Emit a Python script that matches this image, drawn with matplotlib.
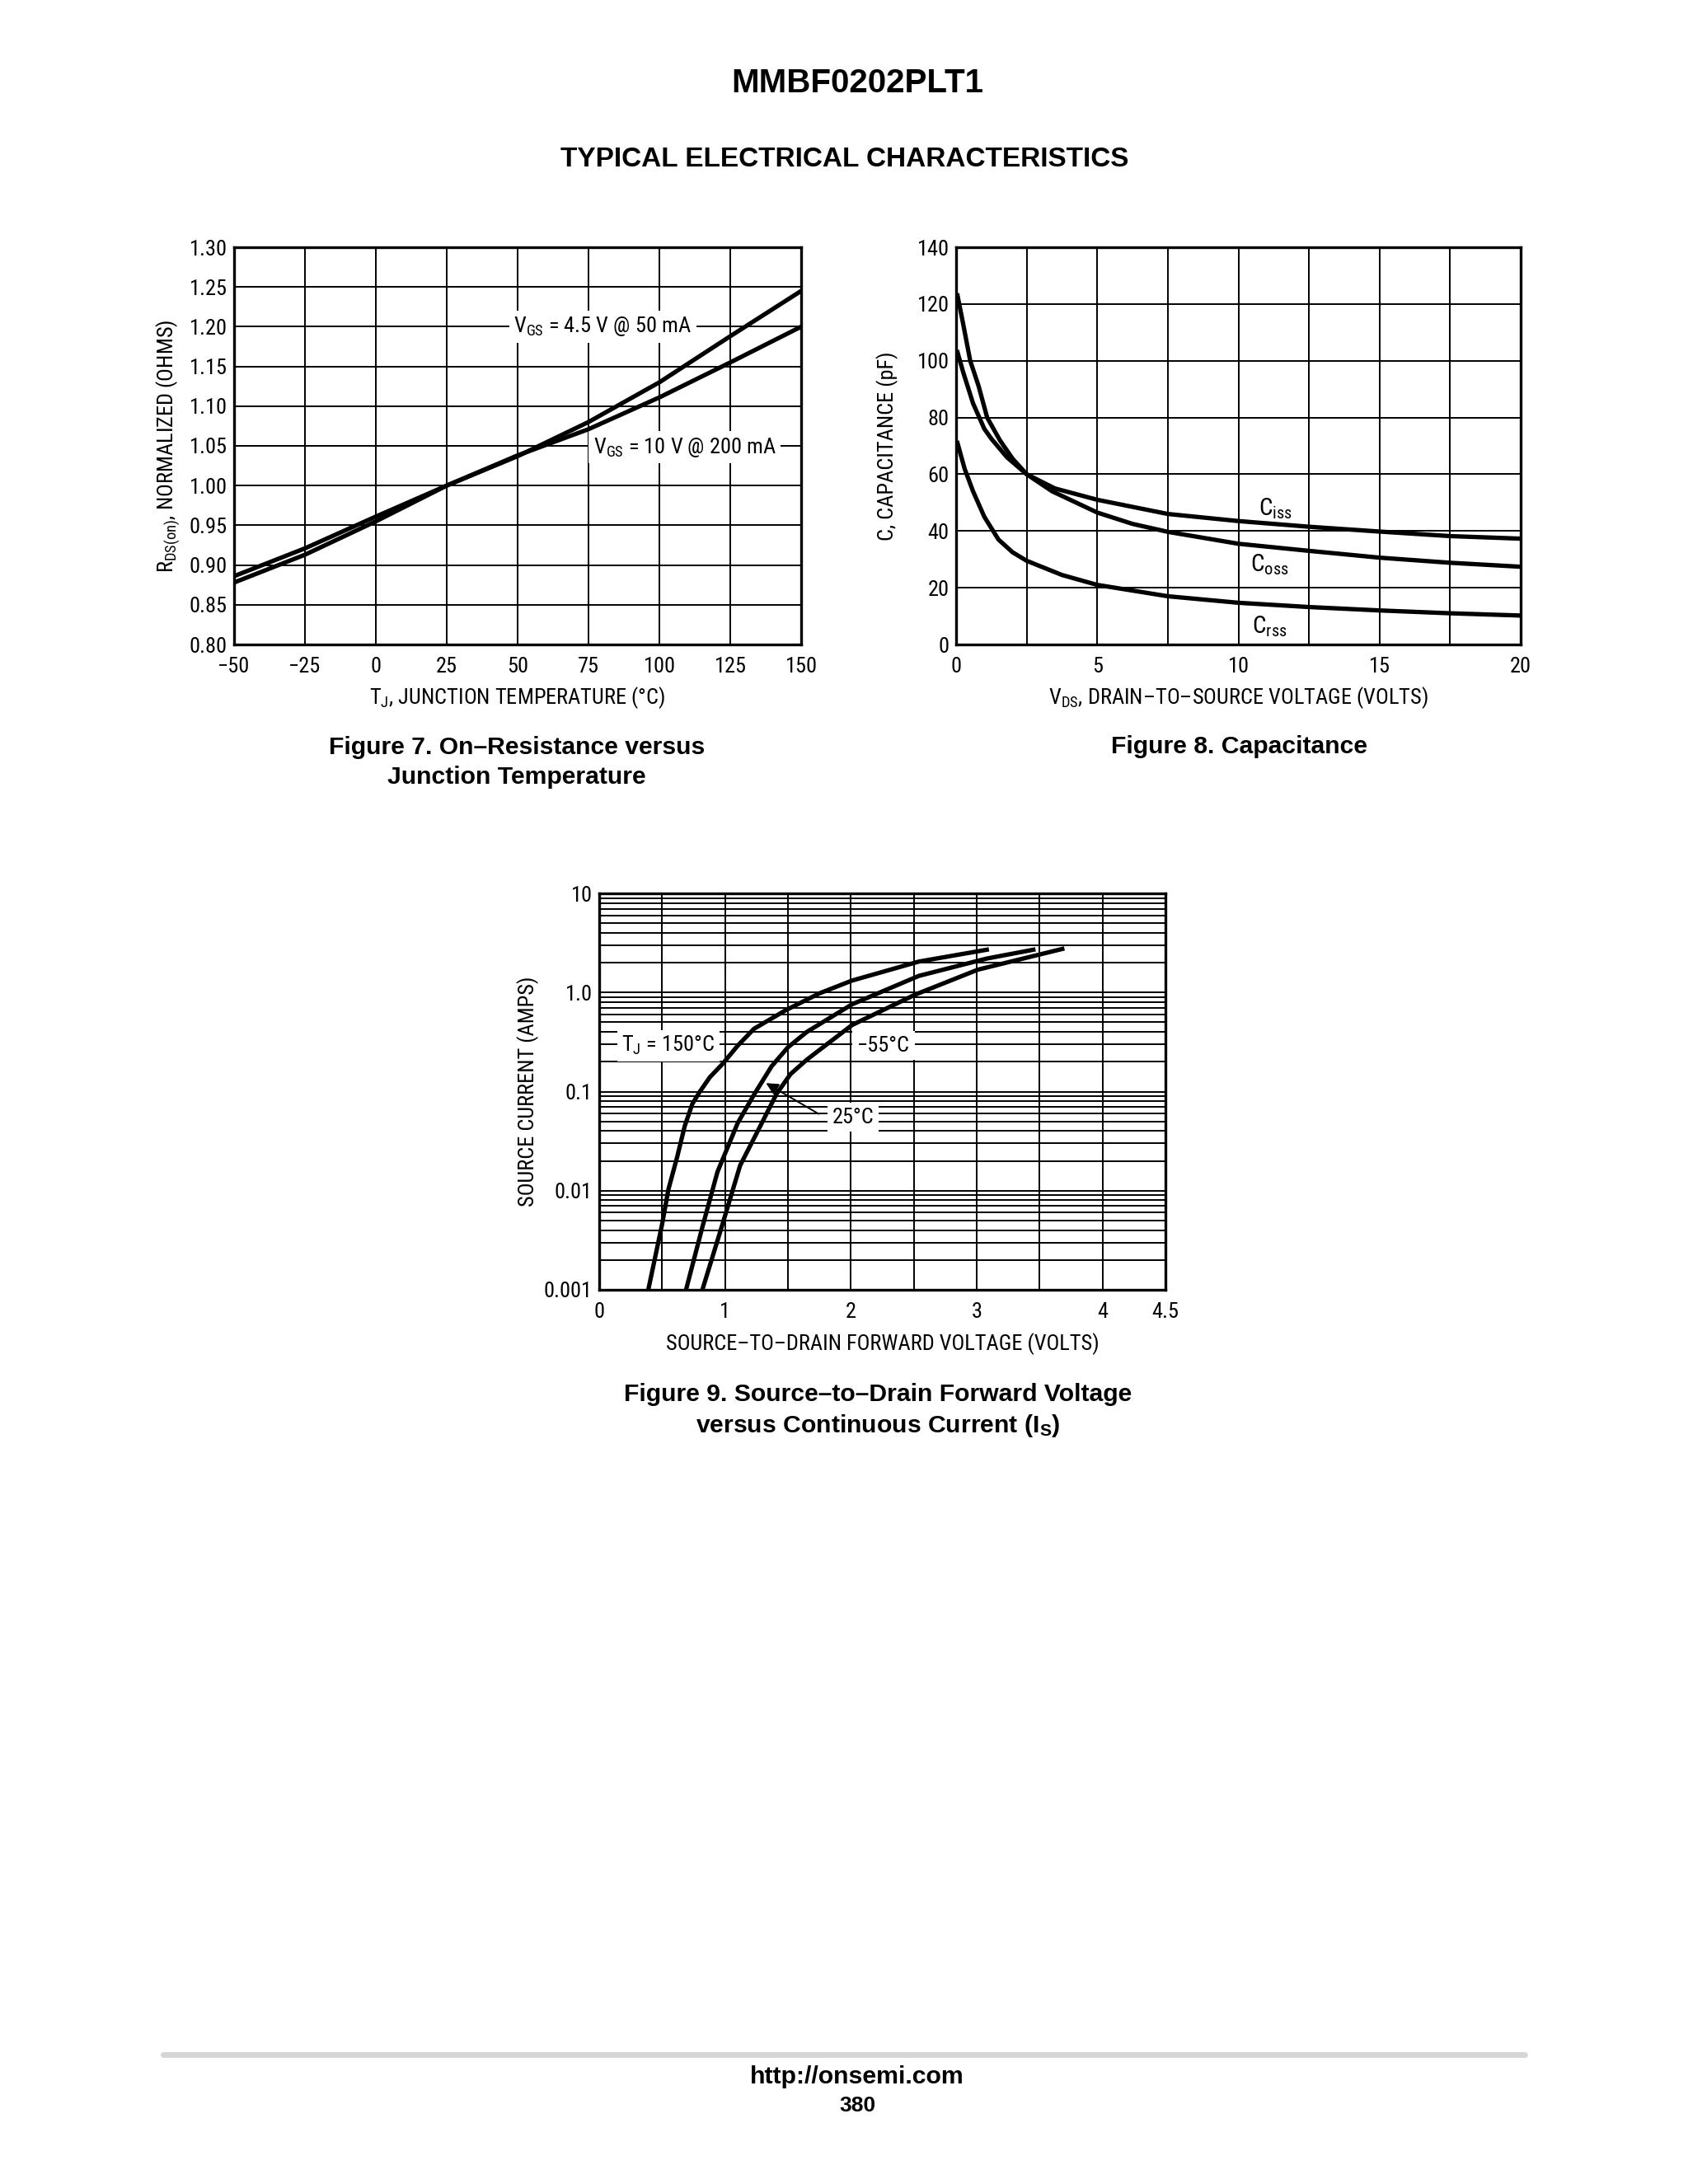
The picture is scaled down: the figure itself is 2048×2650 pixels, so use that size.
import matplotlib
matplotlib.use('Agg')
import matplotlib.pyplot as plt
from matplotlib import font_manager
import numpy as np

# look for a condensed sans face, the datasheet uses Helvetica Condensed
fonts = font_manager.fontManager.ttflist
names = set(f.name for f in fonts)
NARROW = None
STRETCH = 'normal'
for pref in ['Liberation Sans Narrow', 'Roboto Condensed', 'Open Sans Condensed',
             'Noto Sans Condensed', 'Noto Sans SemiCondensed', 'DejaVu Sans Condensed']:
    if pref in names:
        NARROW = pref
        break
if NARROW is None:
    for f in fonts:
        if f.name in ('Noto Sans', 'Open Sans', 'Roboto', 'Inter') and \
                f.stretch in ('condensed', 'semi-condensed', 'extra-condensed'):
            NARROW, STRETCH = f.name, f.stretch
            break
if NARROW is None:
    NARROW = 'Liberation Sans'
    TICK_FS = 16
else:
    TICK_FS = 19
BOLD = 'Liberation Sans'
plt.rcParams['font.family'] = [NARROW, 'DejaVu Sans']
plt.rcParams['font.stretch'] = STRETCH
plt.rcParams['mathtext.fontset'] = 'custom'
plt.rcParams['mathtext.rm'] = NARROW
plt.rcParams['mathtext.it'] = NARROW

# Figure 7: on-resistance vs junction temperature
tj = [-50, -25, 0, 25, 50, 75, 100, 125, 150]
rds_45v = [0.878, 0.913, 0.955, 1.0, 1.037, 1.080, 1.130, 1.188, 1.245]
rds_10v = [0.886, 0.921, 0.961, 1.0, 1.038, 1.071, 1.111, 1.155, 1.200]
tj_ticks = [-50, -25, 0, 25, 50, 75, 100, 125, 150]
tj_labels = ['\u221250', '\u221225', '0', '25', '50', '75', '100', '125', '150']
rds_ticks = [0.80, 0.85, 0.90, 0.95, 1.00, 1.05, 1.10, 1.15, 1.20, 1.25, 1.30]

# Figure 8: capacitance vs drain-source voltage
ciss_v = [0.05, 0.25, 0.5, 0.8, 1.1, 1.55, 2.0, 2.5, 3.5, 5, 7.5, 10, 12.5, 15, 17.5, 20]
ciss_c = [123, 113, 100, 91, 80, 72, 65.5, 60, 55, 51, 46, 43.5, 41.5, 39.8, 38.2, 37.3]
coss_v = [0.05, 0.25, 0.6, 1.0, 1.25, 1.8, 2.5, 3.4, 5, 6.25, 7.5, 10, 12.5, 15, 17.5, 20]
coss_c = [103, 96, 85, 76, 72.5, 66, 60, 54, 46.5, 42.5, 39.7, 35.5, 33, 30.6, 28.8, 27.4]
crss_v = [0.05, 0.3, 0.6, 1.0, 1.5, 2.0, 2.5, 3.75, 5, 7.5, 10, 12.5, 15, 17.5, 20]
crss_c = [71, 62, 54, 45, 37, 32.5, 29.5, 24.5, 21, 17, 14.7, 13.2, 12, 11, 10.2]

# Figure 9: source-drain forward voltage vs source current
v_150 = [0.39, 0.50, 0.55, 0.62, 0.68, 0.74, 0.80, 0.88, 0.98, 1.10, 1.23, 1.48, 1.75, 2.01, 2.54, 3.08]
i_150 = [0.001, 0.0046, 0.0103, 0.022, 0.045, 0.075, 0.1, 0.14, 0.19, 0.29, 0.43, 0.66, 0.98, 1.32, 2.05, 2.7]
v_25 = [0.69, 0.82, 0.94, 1.10, 1.23, 1.37, 1.50, 1.65, 2.01, 2.54, 3.08, 3.45]
i_25 = [0.001, 0.0043, 0.0155, 0.048, 0.093, 0.18, 0.28, 0.40, 0.76, 1.47, 2.2, 2.7]
v_m55 = [0.82, 0.98, 1.12, 1.26, 1.41, 1.52, 1.65, 2.01, 2.51, 3.01, 3.68]
i_m55 = [0.001, 0.0046, 0.018, 0.040, 0.095, 0.15, 0.21, 0.47, 0.95, 1.7, 2.75]
is_ticks = [0.001, 0.01, 0.1, 1, 10]
is_labels = ['0.001', '0.01', '0.1', '1.0', '10']

W, H = 2048, 2650
fig = plt.figure(figsize=(W / 100, H / 100), dpi=100)

LW = 3.8
LAB_FS = TICK_FS


def box(l, t, r, b):
    # pixel box -> figure fraction rect
    return [l / W, 1 - b / H, (r - l) / W, (b - t) / H]


def style(ax):
    ax.set_axisbelow(True)
    ax.grid(True, which='both', color='black', lw=1.4)
    ax.tick_params(which='both', length=0, labelsize=TICK_FS)
    ax.tick_params(axis='x', pad=11)
    ax.tick_params(axis='y', pad=6)
    for s in ax.spines.values():
        s.set_linewidth(2.4)


wbox = dict(facecolor='white', edgecolor='none', pad=4)
CURVE = dict(color='black', lw=LW, zorder=4)

# ---- Figure 7
ax7 = fig.add_axes(box(284, 300, 972, 782))
ax7.plot(tj, rds_45v, **CURVE)
ax7.plot(tj, rds_10v, **CURVE)
ax7.set_xlim(-50, 150)
ax7.set_ylim(0.80, 1.30)
ax7.set_xticks(tj_ticks)
ax7.set_xticklabels(tj_labels)
ax7.set_yticks(rds_ticks)
ax7.set_yticklabels(['%.2f' % v for v in rds_ticks])
style(ax7)
ax7.text(80, 1.200, 'V$_\\mathregular{GS}$ = 4.5 V @ 50 mA', fontsize=LAB_FS,
         ha='center', va='center', bbox=wbox, zorder=3)
ax7.text(109, 1.048, 'V$_\\mathregular{GS}$ = 10 V @ 200 mA', fontsize=LAB_FS,
         ha='center', va='center', bbox=wbox, zorder=3)
ax7.set_xlabel('T$_\\mathregular{J}$, JUNCTION TEMPERATURE (\u00b0C)', fontsize=LAB_FS, labelpad=7)
ax7.set_ylabel('R$_\\mathregular{DS(on)}$, NORMALIZED (OHMS)', fontsize=LAB_FS, labelpad=6)

# ---- Figure 8
ax8 = fig.add_axes(box(1160, 300, 1845, 782))
ax8.plot(ciss_v, ciss_c, **CURVE)
ax8.plot(coss_v, coss_c, **CURVE)
ax8.plot(crss_v, crss_c, **CURVE)
ax8.set_xlim(0, 20)
ax8.set_ylim(0, 140)
ax8.set_xticks(np.arange(0, 20.1, 2.5))
ax8.set_xticklabels(['0', '', '5', '', '10', '', '15', '', '20'])
ax8.set_yticks(np.arange(0, 141, 20))
style(ax8)
ax8.text(11.3, 48, 'C$_\\mathregular{iss}$', fontsize=LAB_FS + 2, ha='center', va='center')
ax8.text(11.1, 28, 'C$_\\mathregular{oss}$', fontsize=LAB_FS + 2, ha='center', va='center')
ax8.text(11.1, 6.5, 'C$_\\mathregular{rss}$', fontsize=LAB_FS + 2, ha='center', va='center')
ax8.set_xlabel('V$_\\mathregular{DS}$, DRAIN\u2013TO\u2013SOURCE VOLTAGE (VOLTS)', fontsize=LAB_FS, labelpad=7)
ax8.set_ylabel('C, CAPACITANCE (pF)', fontsize=LAB_FS, labelpad=16)

# ---- Figure 9
ax9 = fig.add_axes(box(727, 1084, 1414, 1565))
ax9.set_yscale('log')
ax9.plot(v_150, i_150, **CURVE)
ax9.plot(v_25, i_25, **CURVE)
ax9.plot(v_m55, i_m55, **CURVE)
ax9.set_xlim(0, 4.5)
ax9.set_ylim(0.001, 10)
ax9.set_xticks(np.arange(0, 4.51, 0.5))
ax9.set_xticklabels(['0', '', '1', '', '2', '', '3', '', '4', '4.5'])
ax9.set_yticks(is_ticks)
ax9.set_yticklabels(is_labels)
ax9.yaxis.set_minor_locator(matplotlib.ticker.LogLocator(base=10, subs=np.arange(2, 10)))
ax9.yaxis.set_minor_formatter(matplotlib.ticker.NullFormatter())
style(ax9)
ax9.text(0.55, 0.29, 'T$_\\mathregular{J}$ = 150\u00b0C', fontsize=LAB_FS, ha='center', va='center',
         bbox=wbox, zorder=3)
ax9.text(2.26, 0.29, '\u221255\u00b0C', fontsize=LAB_FS, ha='center', va='center', bbox=wbox, zorder=3)
ax9.text(2.02, 0.055, '25\u00b0C', fontsize=LAB_FS, ha='center', va='center', bbox=wbox, zorder=3)
ax9.annotate('', xy=(1.31, 0.125), xytext=(1.76, 0.058),
             arrowprops=dict(arrowstyle='-|>', color='black', lw=1.4, mutation_scale=22), zorder=5)
ax9.set_xlabel('SOURCE\u2013TO\u2013DRAIN FORWARD VOLTAGE (VOLTS)', fontsize=LAB_FS, labelpad=9)
ax9.set_ylabel('SOURCE CURRENT (AMPS)', fontsize=LAB_FS, labelpad=4)

# ---- page text
fig.text(1040 / W, 1 - 101 / H, 'MMBF0202PLT1', fontsize=29, fontweight='bold',
         family=BOLD, ha='center', va='center')
fig.text(1025 / W, 1 - 194 / H, 'TYPICAL ELECTRICAL CHARACTERISTICS', fontsize=24,
         fontweight='bold', family=BOLD, ha='center', va='center')
fig.text(627 / W, 1 - 925 / H, 'Figure 7. On\u2013Resistance versus\nJunction Temperature',
         fontsize=21.7, fontweight='bold', family=BOLD, ha='center', va='center', linespacing=1.32)
fig.text(1503 / W, 1 - 906 / H, 'Figure 8. Capacitance', fontsize=21.7, fontweight='bold',
         family=BOLD, ha='center', va='center')
fig.text(1065 / W, 1 - 1712 / H,
         'Figure 9. Source\u2013to\u2013Drain Forward Voltage\nversus Continuous Current (I$_\\mathregular{S}$)',
         fontsize=21.7, fontweight='bold', family=BOLD, ha='center', va='center', linespacing=1.32)

fig.add_artist(plt.Line2D([198 / W, 1850 / W], [1 - 2493 / H, 1 - 2493 / H],
                          color='#d6d6d6', lw=5, solid_capstyle='round'))
fig.text(1040 / W, 1 - 2520 / H, 'http://onsemi.com', fontsize=21.8, fontweight='bold',
         family=BOLD, ha='center', va='center')
fig.text(1040 / W, 1 - 2555 / H, '380', fontsize=19, fontweight='bold',
         family=BOLD, ha='center', va='center')

fig.savefig('out.png', dpi=100, facecolor='white')
